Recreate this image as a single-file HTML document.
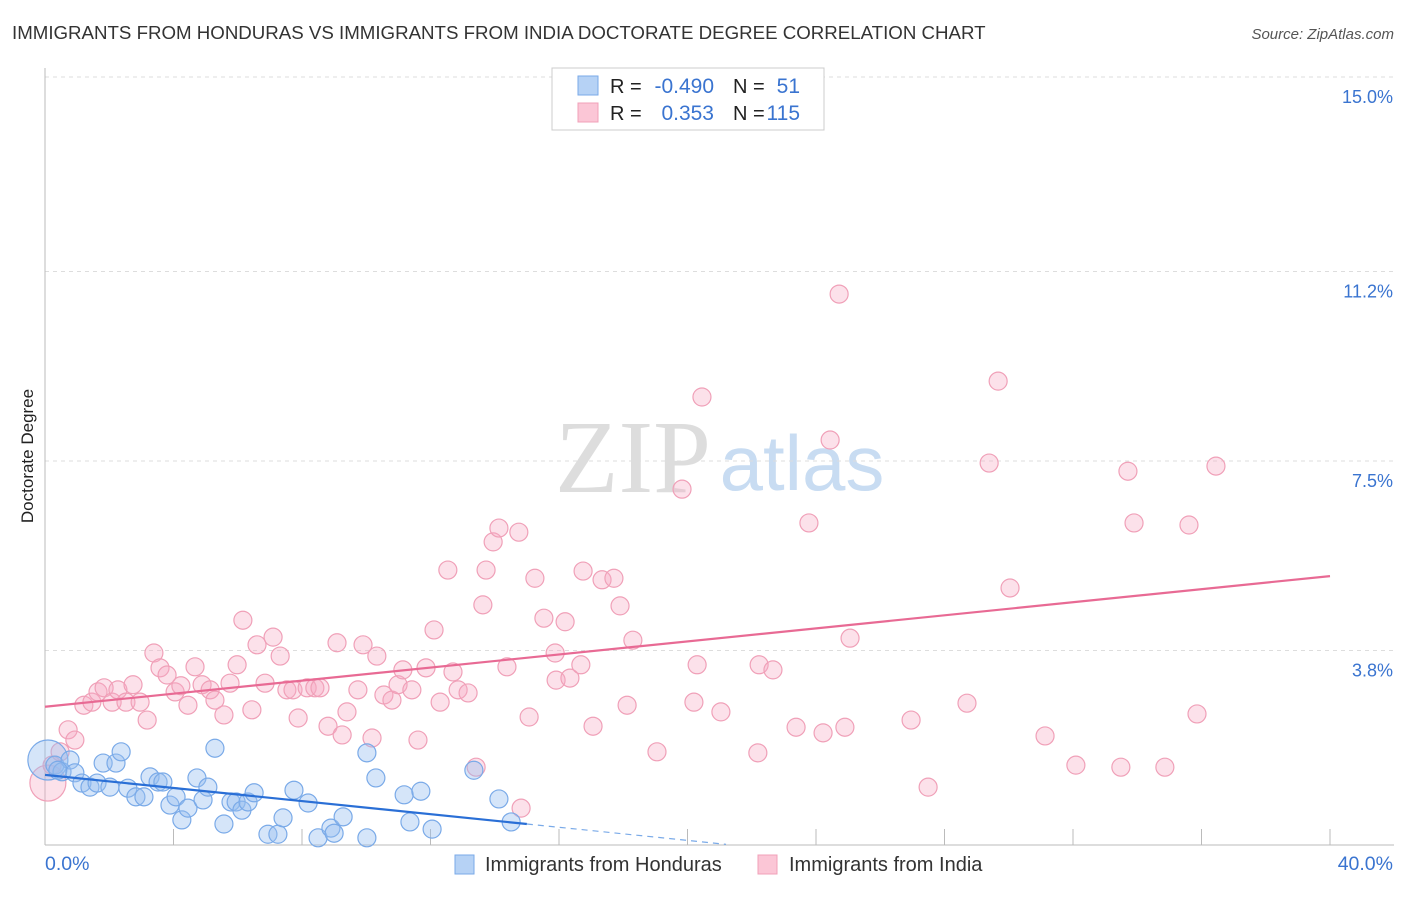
<!DOCTYPE html>
<html><head><meta charset="utf-8"><style>
body{margin:0;background:#fff;font-family:"Liberation Sans",sans-serif}
svg text{font-family:"Liberation Sans",sans-serif}
</style></head><body>
<svg id="c" width="1406" height="892" xmlns="http://www.w3.org/2000/svg">
<text x="12" y="39" font-size="18.7" fill="#333">IMMIGRANTS FROM HONDURAS VS IMMIGRANTS FROM INDIA DOCTORATE DEGREE CORRELATION CHART</text>
<text x="1394" y="39" font-size="15" fill="#555" text-anchor="end" font-style="italic">Source: ZipAtlas.com</text>
<text x="33" y="456" font-size="17" fill="#222" text-anchor="middle" transform="rotate(-90 33 456)">Doctorate Degree</text>
<g><text x="633" y="492" font-size="104" fill="#ddd" text-anchor="middle" font-family="Liberation Serif" style="font-family:'Liberation Serif',serif">ZIP</text><text x="802" y="490" font-size="78" fill="#c8dcf2" text-anchor="middle">atlas</text></g>
<g id="grid"></g><g id="axes"></g><g id="pts"></g><g id="lines"></g>
<g>
<rect x="552" y="68" width="272" height="62" fill="#fff" stroke="#ccc"/>
<rect x="578" y="76" width="20" height="19" fill="#b6d2f5" stroke="#7aaae8"/>
<rect x="578" y="103" width="20" height="19" fill="#fbc6d6" stroke="#f0a0b8"/>
<text x="610" y="93" font-size="20" fill="#222">R =</text><text x="714" y="93" font-size="21" fill="#3a74d0" text-anchor="end">-0.490</text>
<text x="733" y="93" font-size="20" fill="#222">N =</text><text x="800" y="93" font-size="21" fill="#3a74d0" text-anchor="end">51</text>
<text x="610" y="120" font-size="20" fill="#222">R =</text><text x="714" y="120" font-size="21" fill="#3a74d0" text-anchor="end">0.353</text>
<text x="733" y="120" font-size="20" fill="#222">N =</text><text x="800" y="120" font-size="21" fill="#3a74d0" text-anchor="end">115</text>
</g>
<g>
<rect x="455" y="855" width="19" height="19" fill="#b6d2f5" stroke="#7aaae8"/>
<text x="485" y="871" font-size="20" fill="#333">Immigrants from Honduras</text>
<rect x="758" y="855" width="19" height="19" fill="#fbc6d6" stroke="#f0a0b8"/>
<text x="789" y="871" font-size="20" fill="#333">Immigrants from India</text>
</g>
</svg>
<script>
const yTicks=[3.8,7.5,11.2,15.0];
const yTickLabels=["3.8%","7.5%","11.2%","15.0%"];
const xTickVals=[0,4,8,12,16,20,24,28,32,36,40];
const hondurasX=[0.09,0.31,0.53,0.78,0.40,0.93,1.15,1.40,1.62,1.81,2.02,2.21,2.37,2.58,2.83,3.08,3.27,3.52,3.67,3.89,4.08,4.26,4.45,4.73,4.92,5.07,5.29,5.57,5.79,5.95,6.13,6.32,6.51,6.94,7.25,7.41,7.75,8.19,8.50,8.90,9.00,9.28,10.02,10.02,10.30,11.18,11.36,11.70,12.05,13.35,14.13,14.51];
const hondurasY=[1.66,1.56,1.43,1.66,1.46,1.41,1.21,1.13,1.21,1.60,1.13,1.60,1.82,1.11,0.94,0.94,1.33,1.23,1.23,0.78,0.94,0.49,0.72,1.31,0.88,1.13,1.89,0.41,0.84,0.84,0.68,0.84,1.02,0.21,0.21,0.53,1.07,0.82,0.14,0.33,0.23,0.55,1.80,0.14,1.31,0.98,0.45,1.05,0.31,1.46,0.90,0.45];
const indiaX=[0.09,0.22,0.47,0.72,0.93,1.21,1.46,1.65,1.84,2.09,2.27,2.52,2.74,2.96,3.18,3.39,3.58,3.80,4.05,4.23,4.45,4.67,4.89,5.14,5.29,5.57,5.76,5.98,6.16,6.44,6.60,6.85,7.10,7.32,7.53,7.72,7.88,8.16,8.40,8.56,8.81,9.09,9.25,9.40,9.74,9.90,10.18,10.33,10.55,10.80,10.99,11.14,11.42,11.61,11.86,12.11,12.30,12.54,12.70,12.86,13.17,13.42,13.63,13.73,13.95,14.13,14.38,14.75,14.82,15.07,15.25,15.53,15.88,15.91,16.19,16.34,16.68,16.75,17.06,17.34,17.71,17.90,18.12,18.30,19.05,19.83,20.20,20.30,20.45,21.04,22.19,22.23,22.66,23.38,23.78,24.22,24.44,24.72,24.90,25.06,26.96,27.49,28.70,29.39,29.67,30.04,31.13,32.09,33.49,33.71,33.90,34.86,35.61,35.86,36.45];
const indiaY=[1.21,1.56,1.82,2.25,2.05,2.73,2.79,2.99,3.07,2.79,3.03,2.79,3.13,2.79,2.44,3.75,3.46,3.32,2.99,3.11,2.73,3.48,3.13,3.03,2.83,2.54,3.16,3.52,4.39,2.64,3.91,3.16,4.06,3.69,3.03,3.03,2.48,3.07,3.07,3.07,2.32,3.95,2.15,2.60,3.03,3.91,2.09,3.69,2.93,2.83,3.13,3.42,3.03,2.05,3.46,4.20,2.79,5.37,3.38,3.03,2.97,1.52,4.69,5.37,5.92,6.19,3.48,6.11,0.72,2.50,5.21,4.43,3.75,3.22,4.36,3.26,3.52,5.35,2.32,5.18,5.21,4.67,2.73,4.00,1.82,6.95,2.79,3.52,8.75,2.60,1.80,3.52,3.42,2.30,6.29,2.19,7.91,10.76,2.30,4.04,2.44,1.13,2.77,7.46,9.06,5.02,2.13,1.56,1.52,7.30,6.29,1.52,6.25,2.56,7.40];
const hondurasTrend=[1.37,-0.064]; // intercept, slope
const hondurasTrendEnd=[15,21.2];
const indiaTrend=[2.70,0.0638];
const indiaTrendEnd=[40];
const X=v=>45+v*32.125, Y=v=>845-v*51.2;
const NS="http://www.w3.org/2000/svg";
function mk(t,a,p){const e=document.createElementNS(NS,t);for(const k in a)e.setAttribute(k,a[k]);p.appendChild(e);return e;}
const grid=document.getElementById('grid'),axes=document.getElementById('axes'),pts=document.getElementById('pts'),lines=document.getElementById('lines');
yTicks.forEach((v,i)=>{
 const g=mk('line',{x1:45,x2:1394,y1:Y(v),y2:Y(v),stroke:'#ddd','stroke-dasharray':'4 4'},grid);
 
 
 const t=mk('text',{x:1393,y:Y(v)+26,'font-size':18,fill:'#3a74d0','text-anchor':'end'},axes);t.textContent=yTickLabels[i];
 
 
});
const ax=mk('line',{x1:45,x2:1394,y1:845,y2:845,stroke:'#bbb'},axes);


const ay=mk('line',{x1:45,x2:45,y1:68,y2:845,stroke:'#bbb'},axes);


xTickVals.slice(1).forEach(v=>{const l=mk('line',{x1:X(v),x2:X(v),y1:829,y2:845,stroke:'#bbb'},axes);
 
 });
const xl=mk('text',{x:45,y:870,'font-size':19.5,fill:'#3a74d0'},axes);xl.textContent=xTickVals[0].toFixed(1)+'%';


const xr=mk('text',{x:1393,y:870,'font-size':19.5,fill:'#3a74d0','text-anchor':'end'},axes);xr.textContent=xTickVals[10].toFixed(1)+'%';


indiaX.forEach((v,i)=>{const c=mk('circle',{cx:X(v),cy:Y(indiaY[i]),r:i==0?18:9,fill:'rgba(246,170,196,0.35)',stroke:'#f0a0b8','stroke-width':1.2},pts);
 
 });
hondurasX.forEach((v,i)=>{const c=mk('circle',{cx:X(v),cy:Y(hondurasY[i]),r:i==0?20:9,fill:'rgba(150,190,240,0.4)',stroke:'#7aaae8','stroke-width':1.2},pts);
 
 });
const f=(t,x)=>t[0]+t[1]*x;
const pl=mk('line',{x1:X(0),y1:Y(f(indiaTrend,0)),x2:X(indiaTrendEnd[0]),y2:Y(f(indiaTrend,indiaTrendEnd[0])),stroke:'#e86a94','stroke-width':2.2},lines);


const bl=mk('line',{x1:X(0),y1:Y(f(hondurasTrend,0)),x2:X(hondurasTrendEnd[0]),y2:Y(f(hondurasTrend,hondurasTrendEnd[0])),stroke:'#2a6fd6','stroke-width':2.2},lines);


const bd=mk('line',{x1:X(hondurasTrendEnd[0]),y1:Y(f(hondurasTrend,hondurasTrendEnd[0])),x2:X(hondurasTrendEnd[1]),y2:Y(f(hondurasTrend,hondurasTrendEnd[1])),stroke:'#7aaae8','stroke-width':1.2,'stroke-dasharray':'6 5'},lines);


</script>
</body></html>
